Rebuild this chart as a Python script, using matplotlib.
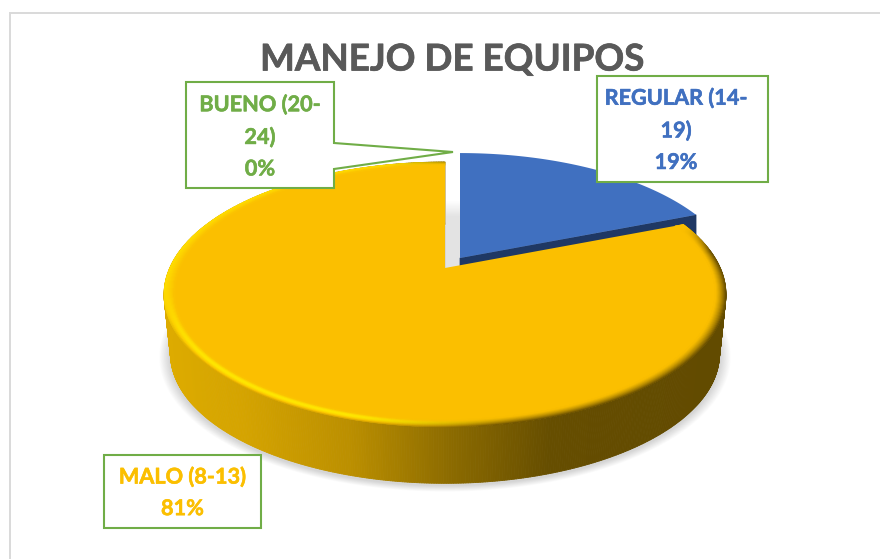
import numpy as np
import matplotlib
matplotlib.use("Agg")
import matplotlib.pyplot as plt
import matplotlib.patheffects as pe
from matplotlib.collections import PolyCollection
from matplotlib.patches import Polygon, Rectangle
from matplotlib.colors import to_rgb

title = "MANEJO DE EQUIPOS"
categories = ["REGULAR (14-\n19)", "MALO (8-13)", "BUENO (20-\n24)"]
values = [19, 81, 0]
colors = ["#4070C0", "#FBBF00", "#70AD47"]
side_colors = ["#1F3864", None, None]

W, H = 880, 559
fig = plt.figure(figsize=(W / 100, H / 100), dpi=100, facecolor="white")
ax = fig.add_axes([0, 0, 1, 1])
ax.set_xlim(0, W)
ax.set_ylim(H, 0)
ax.axis("off")
plt.rcParams["font.family"] = ["Lato", "DejaVu Sans"]

K = 0.2
RX, RY = 275.3, 127.2
DEPTH = 60


def project(theta, r=1.0, cx=445.0, cy=268.0, scale=1.0):
    """theta in degrees clockwise from the top of the pie."""
    t = np.radians(theta)
    u, v = r * np.sin(t), r * np.cos(t)
    w = 1 + K * v
    return np.column_stack([cx + scale * RX * u / w, cy - scale * RY * v / w])


def lower(theta):
    """Rim of the bottom face of the disc."""
    p = project(theta, scale=0.977)
    p[:, 1] += DEPTH
    return p


def mix(a, b, f):
    a = np.array(to_rgb(a)) if isinstance(a, str) else a
    b = np.array(to_rgb(b)) if isinstance(b, str) else b
    return a + (b - a) * f


def smooth(x, lo, hi):
    s = np.clip((x - lo) / (hi - lo), 0, 1)
    return s * s * (3 - 2 * s)


pct = np.array(values) / sum(values) * 360
starts = np.concatenate([[0], np.cumsum(pct)[:-1]])
ends = starts + pct

# ---- soft shadow under the disc
full = np.linspace(0, 360, 361)
for grow in np.linspace(11, 1, 14):
    pts = project(full, scale=0.977 + grow / 275)
    pts[:, 1] += DEPTH + 2
    ax.add_patch(Polygon(pts, closed=True, fc="black", ec="none", alpha=0.013, zorder=1))

# ---- grey wall in the gap between the slices
gx0, gx1, gy0, gy1 = 446, 461, 200, 270
for y in np.arange(gy0, gy1):
    f = min(1, (y - gy0) / 16)
    ax.add_patch(Rectangle((gx0, y), gx1 - gx0, 1.2, fc=mix("#FFFFFF", "#E3E3E3", f), ec="none", zorder=2))

# ---- REGULAR slice (pulled out)
a = np.linspace(starts[0], ends[0], 120)
blue_top = project(a, cx=460, cy=258, scale=0.99)
apex = np.array([[460.0, 258.0]])
edge = np.vstack([apex, blue_top[-1:]])
ax.add_patch(Polygon(np.vstack([edge, edge[::-1] + [0, 56]]), closed=True, fc=side_colors[0], ec=side_colors[0], lw=.5, zorder=3))
ax.add_patch(Polygon(np.vstack([apex, blue_top]), closed=True, fc=colors[0], ec="none", zorder=4))

# ---- MALO slice
a = np.linspace(starts[1], ends[1], 700)
top = project(a)
bot = lower(a)
stops_x = [165, 240, 350, 450, 550, 600, 730]
stops_c = ["#DDAB00", "#D5A400", "#BB8F00", "#8C6B00", "#664E00", "#644C00", "#624B00"]
stops_rgb = np.array([to_rgb(c) for c in stops_c])
polys, cols = [], []
for i in range(len(a) - 1):
    polys.append([top[i], top[i + 1], bot[i + 1], bot[i]])
    xm = (top[i, 0] + top[i + 1, 0]) / 2
    cols.append([np.interp(xm, stops_x, stops_rgb[:, k]) for k in range(3)])
ax.add_collection(PolyCollection(polys, facecolors=cols, edgecolors=cols, linewidths=0.6, zorder=5))

apex = np.array([[445.0, 268.0]])
ax.add_patch(Polygon(np.vstack([apex, top]), closed=True, fc=colors[1], ec="none", zorder=6))

# bevel around the outer rim
polys, cols = [], []
radii = np.linspace(1.0, 0.962, 12)
for j in range(len(radii) - 1):
    tf = 1 - (j + 0.5) / (len(radii) - 1)  # 1 at the outer edge, 0 inside
    p0, p1 = project(a, radii[j]), project(a, radii[j + 1])
    for i in range(len(a) - 1):
        th = np.radians((a[i] + a[i + 1]) / 2)
        su, cv = np.sin(th), np.cos(th)
        fade = np.clip((a[i] - ends[0] - 2) / 12, 0, 1) if a[i] < 100 else 1
        # left side: glow reaching the edge
        c_left = mix(colors[1], "#FFE000", tf ** 0.8)
        # lower left: thin bright ridge that falls off into the wall colour
        ridge = np.sin(np.pi * min(tf * 1.15, 1)) ** 1.5
        c_low = mix(colors[1], "#FFE800", ridge)
        c_low = mix(c_low, "#C89A00", smooth(tf, 0.75, 1.0) * 0.7)
        c_lit = mix(c_left, c_low, smooth(-cv, 0.1, 0.7))
        # right side: dark falloff
        c_dark = mix(colors[1], "#5E4700", tf ** 1.4)
        c = mix(c_lit, c_dark, smooth(su, -0.3, 0.25))
        c = mix(colors[1], c, fade)
        polys.append([p0[i], p0[i + 1], p1[i + 1], p1[i]])
        cols.append(c)
ax.add_collection(PolyCollection(polys, facecolors=cols, edgecolors=cols, linewidths=0.4, zorder=7))

# ---- frame: only the top and left edges fall inside the picture
ax.plot([W + 5, 10, 10], [12.5, 12.5, H + 5], color="#D9D9D9", lw=1.4, solid_joinstyle="miter", zorder=0)

# ---- title
stroke = [pe.withStroke(linewidth=0.5, foreground="#595959")]
ax.text(452, 60, title, ha="center", va="center", fontsize=26.5, fontweight="bold", color="#595959",
        zorder=10, path_effects=stroke)

# ---- data labels
GREEN = colors[2]


def box(x0, y0, x1, y1):
    ax.add_patch(Rectangle((x0, y0), x1 - x0, y1 - y0, fc="white", ec=GREEN, lw=1.5, zorder=11))


def label(x, y, s, color):
    ax.text(x, y, s, ha="center", va="center", color=color, fontsize=15.6, fontweight="bold",
            linespacing=1.62, zorder=12, path_effects=[pe.withStroke(linewidth=0.4, foreground=color)])


box(597, 76, 768, 182)
label(676, 130, f"{categories[0]}\n{values[0]}%", colors[0])

box(104, 455, 261, 528)
label(182.5, 492.5, f"{categories[1]}\n{values[1]}%", colors[1])

ax.add_patch(Polygon([(186, 82), (334, 82), (334, 143), (453, 152), (334, 169), (334, 188), (186, 188)],
                     closed=True, fc="white", ec=GREEN, lw=1.5, zorder=11))
label(260, 136.5, f"{categories[2]}\n{values[2]}%", colors[2])

fig.savefig("out.png", dpi=100, facecolor="white")
